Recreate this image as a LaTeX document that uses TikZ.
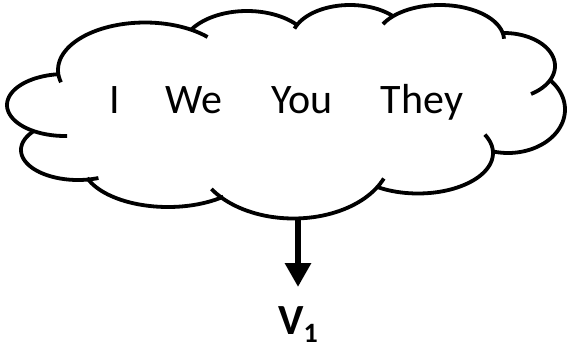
\documentclass[tikz,border=0pt]{standalone}
\usepackage{fontspec}
\setmainfont{Carlito}
\usetikzlibrary{arrows.meta}
\newcommand\cloudbump[6]{\draw[cloudline] plot[domain=#5:#6, samples=48, variable=\t] ({#1+#3*cos(\t)},{#2+#4*sin(\t)});}
\tikzset{
  cloudline/.style={line width=3.8pt, line join=round},
  word/.style={anchor=base, inner sep=0pt, font=\fontsize{42}{46}\selectfont},
  vlabel/.style={anchor=base, inner sep=0pt, font=\fontsize{43}{48}\selectfont\bfseries},
  bigarrow/.style={line width=6.5pt, -{Triangle[width=25pt,length=24pt]}}
}
\begin{document}
\begin{tikzpicture}[x=1pt,y=-1pt]
\useasboundingbox (0,0) rectangle (567,351);
% cloud bumps: centre x, centre y, radius x, radius y, start, end
\cloudbump{145}{70}{87}{47.5}{165}{316}
\cloudbump{247}{51}{66}{40}{211.3}{319.4}
\cloudbump{350}{40}{58.7}{35}{199}{318}
\cloudbump{440}{40}{64}{35}{207}{358}
\cloudbump{504}{66}{51}{33}{268}{418}
\cloudbump{508}{109.5}{57}{43.5}{-42.5}{105}
\cloudbump{418}{153}{75}{40.5}{-27}{122}
\cloudbump{293.5}{154.5}{97.4}{64}{22}{147.4}
\cloudbump{168}{163}{86}{44}{50}{160}
\cloudbump{78}{150}{57}{30}{69}{219}
\cloudbump{65}{105}{58}{31}{88}{262}
\node[word] (w1) at (114.5,113) {I};
\node[word] (w2) at (193.5,113) {We};
\node[word] (w3) at (302,113) {You};
\node[word] (w4) at (422,113) {They};
\coordinate (cb) at (298,218);
\coordinate (tip) at (298,287);
\draw[bigarrow] (cb) -- (tip);
\node[vlabel] (v) at (298,334) {V\raisebox{-8pt}{\fontsize{28}{32}\selectfont 1}};
\end{tikzpicture}
\end{document}
